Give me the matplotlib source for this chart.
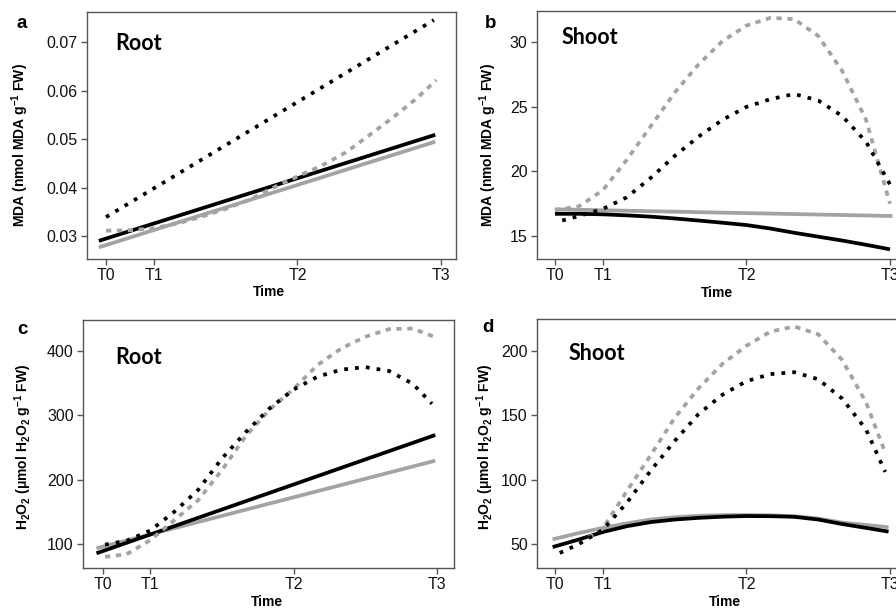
import numpy as np
import matplotlib
matplotlib.use("Agg")
import matplotlib.pyplot as plt

plt.rcParams["font.family"] = ["Liberation Sans", "DejaVu Sans"]
plt.rcParams["mathtext.fontset"] = "custom"
plt.rcParams["mathtext.rm"] = "Liberation Sans:bold"
plt.rcParams["mathtext.bf"] = "Liberation Sans:bold"
plt.rcParams["mathtext.it"] = "Liberation Sans:bold"

# time points: T0=0, T1=1, T2=4, T3=7 (days)
tick_pos = [0, 1, 4, 7]
tick_lab = ["T0", "T1", "T2", "T3"]

GRID = [0, 0.5, 1, 1.5, 2, 2.5, 3, 3.5, 4, 4.5, 5, 5.5, 6, 6.5, 7]

# ---- a: MDA root ----
a_black_solid_x = [-0.15, 6.88]
a_black_solid = [0.0290, 0.0509]
a_gray_solid_x = [-0.15, 6.88]
a_gray_solid = [0.02766, 0.04948]
a_black_dot_x = [0, 6.85]
a_black_dot = [0.0339, 0.0746]
a_gray_dot_x = [0, 0.5, 1, 1.5, 2, 2.5, 3, 3.5, 4, 4.5, 5, 5.5, 6, 6.5, 6.9]
a_gray_dot = [0.0311, 0.0312, 0.0316, 0.0326, 0.0340, 0.0356, 0.0375, 0.0400,
              0.0423, 0.0445, 0.0472, 0.0508, 0.0545, 0.0585, 0.0622]

# ---- b: MDA shoot ----
b_black_solid_x = GRID
b_black_solid = [16.72, 16.72, 16.68, 16.6, 16.5, 16.36, 16.2, 16.03, 15.85,
                 15.58, 15.25, 14.95, 14.65, 14.32, 13.97]
b_gray_solid_x = [0, 7.05]
b_gray_solid = [17.07, 16.55]
b_black_dot_x = [0.15, 0.5, 1, 1.5, 2, 2.5, 3, 3.5, 4, 4.5, 5, 5.5, 6, 6.5, 7]
b_black_dot = [16.2, 16.55, 17.1, 18.0, 19.5, 21.2, 22.7, 24.0, 25.0, 25.6,
               26.0, 25.5, 24.3, 22.3, 19.0]
b_gray_dot_x = [0, 0.5, 1, 1.5, 2, 2.5, 3, 3.5, 4, 4.5, 5, 5.5, 6, 6.5, 7]
b_gray_dot = [17.0, 17.3, 18.55, 20.9, 23.5, 26.1, 28.3, 30.1, 31.3, 31.9,
              31.8, 30.5, 27.8, 24.0, 17.5]

# ---- c: H2O2 root ----
c_black_solid_x = [-0.13, 6.97]
c_black_solid = [85.5, 269.4]
c_gray_solid_x = [-0.13, 6.97]
c_gray_solid = [93.3, 229.5]
c_black_dot_x = [0.05, 0.5, 1, 1.5, 2, 2.5, 3, 3.5, 4, 4.5, 5, 5.5, 6, 6.5, 6.9]
c_black_dot = [99, 105, 121, 150, 184, 233, 274, 311, 340, 360, 371, 375,
               369, 349, 318]
c_gray_dot_x = [0.05, 0.5, 1, 1.5, 2, 2.5, 3, 3.5, 4, 4.5, 5, 5.5, 6, 6.5, 6.95]
c_gray_dot = [80, 84, 106, 137, 168, 215, 268, 309, 341, 378, 404, 422,
              434, 435, 422]

# ---- d: H2O2 shoot ----
d_black_solid_x = [-0.05, 0.5, 1, 1.5, 2, 2.5, 3, 3.5, 4, 4.5, 5, 5.5, 6, 6.5, 6.97]
d_black_solid = [47.6, 53.5, 59.3, 63.8, 67.0, 69.0, 70.3, 71.2, 71.7, 71.6,
                 71.1, 69.0, 65.5, 62.5, 59.6]
d_gray_solid_x = [-0.05, 0.5, 1, 1.5, 2, 2.5, 3, 3.5, 4, 4.5, 5, 5.5, 6, 6.5, 6.97]
d_gray_solid = [53.6, 58.5, 62.5, 66.0, 69.0, 70.8, 71.9, 72.4, 72.5, 72.3,
                71.6, 69.8, 66.6, 64.8, 63.0]
d_black_dot_x = [0.1, 0.5, 1, 1.5, 2, 2.5, 3, 3.5, 4, 4.5, 5, 5.5, 6, 6.5, 6.9]
d_black_dot = [43, 50, 61, 82, 107, 130, 151, 166, 176.5, 182, 183.5, 178,
               163, 139, 106]
d_gray_dot_x = [0.7, 1, 1.5, 2, 2.5, 3, 3.5, 4, 4.5, 5, 5.5, 6, 6.5, 6.9]
d_gray_dot = [55, 62, 91, 119, 148, 171, 190, 204, 215, 219, 213, 193, 160, 121]

W, H = 896, 611
BLACK = "#000000"
GRAY = "#a3a3a3"

fig = plt.figure(figsize=(W / 100, H / 100), dpi=100)


def add_ax(left, top, right, bottom):
    return fig.add_axes([left / W, 1 - bottom / H, (right - left) / W, (bottom - top) / H])


def draw(ax, series, xlim, ylim, yticks, yfmt):
    for x, y, col, dotted in series:
        if dotted:
            dash = (0, (1.4, 1.5)) if col == GRAY else (0, (1, 1.9))
            ax.plot(x, y, color=col, lw=2.7, linestyle=dash,
                    dash_capstyle="butt", dash_joinstyle="miter")
        else:
            ax.plot(x, y, color=col, lw=2.7, solid_capstyle="butt")
    ax.set_xlim(*xlim)
    ax.set_ylim(*ylim)
    ax.set_xticks(tick_pos)
    ax.set_xticklabels(tick_lab)
    ax.set_yticks(yticks)
    ax.set_yticklabels([yfmt.format(v) for v in yticks])
    for s in ax.spines.values():
        s.set_color("#555555")
        s.set_linewidth(1.0)
    ax.tick_params(direction="out", length=4, width=1, color="#555555",
                   labelsize=11.5, pad=2.5, labelcolor="#111111")


ax_a = add_ax(87, 12, 456, 259)
draw(ax_a, [(a_gray_solid_x, a_gray_solid, GRAY, False),
            (a_black_solid_x, a_black_solid, BLACK, False),
            (a_gray_dot_x, a_gray_dot, GRAY, True),
            (a_black_dot_x, a_black_dot, BLACK, True)],
     (-0.397, 7.313), (0.02525, 0.07626), [0.03, 0.04, 0.05, 0.06, 0.07], "{:.2f}")

ax_b = add_ax(536.7, 11, 905.6, 259)
draw(ax_b, [(b_gray_solid_x, b_gray_solid, GRAY, False),
            (b_black_solid_x, b_black_solid, BLACK, False),
            (b_gray_dot_x, b_gray_dot, GRAY, True),
            (b_black_dot_x, b_black_dot, BLACK, True)],
     (-0.382, 7.326), (13.22, 32.43), [15, 20, 25, 30], "{:d}")

ax_c = add_ax(82.7, 320, 454, 568.3)
draw(ax_c, [(c_gray_solid_x, c_gray_solid, GRAY, False),
            (c_black_solid_x, c_black_solid, BLACK, False),
            (c_gray_dot_x, c_gray_dot, GRAY, True),
            (c_black_dot_x, c_black_dot, BLACK, True)],
     (-0.419, 7.363), (62.2, 448.2), [100, 200, 300, 400], "{:d}")

ax_d = add_ax(536.7, 319.3, 905.6, 568.3)
draw(ax_d, [(d_gray_solid_x, d_gray_solid, GRAY, False),
            (d_black_solid_x, d_black_solid, BLACK, False),
            (d_gray_dot_x, d_gray_dot, GRAY, True),
            (d_black_dot_x, d_black_dot, BLACK, True)],
     (-0.382, 7.326), (31.1, 224.6), [50, 100, 150, 200], "{:d}")


def ftext(x, y, s, **kw):
    fig.text(x / W, 1 - y / H, s, **kw)


# panel letters
for (x, y, s) in [(22, 23, "a"), (491, 23, "b"), (22, 329, "c"), (488, 328, "d")]:
    ftext(x, y, s, fontsize=13.5, fontweight="bold", ha="center", va="center")

# tissue labels
for (x, y, s) in [(115, 44, "Root"), (562, 37, "Shoot"), (115, 357, "Root"), (569, 353, "Shoot")]:
    ftext(x, y, s, fontsize=15.5, fontweight="bold", ha="left", va="center",
          family=["Lato", "DejaVu Sans"])

# axis labels
mda = r"MDA (nmol MDA g$^{-1}$ FW)"
h2o2 = r"H$_2$O$_2$ ($\mu$mol H$_2$O$_2$ g$^{-1}$ FW)"
ftext(20.7, 145, mda, fontsize=10, fontweight="bold", rotation=90, ha="center", va="center")
ftext(488, 145, mda, fontsize=10, fontweight="bold", rotation=90, ha="center", va="center")
ftext(23, 447, h2o2, fontsize=10, fontweight="bold", rotation=90, ha="center", va="center")
ftext(485, 447, h2o2, fontsize=10, fontweight="bold", rotation=90, ha="center", va="center")

for (x, y) in [(269, 292), (717, 293), (267, 601.5), (725, 601.5)]:
    ftext(x, y, "Time", fontsize=10, fontweight="bold", ha="center", va="center")

fig.savefig("out.png", dpi=100)
